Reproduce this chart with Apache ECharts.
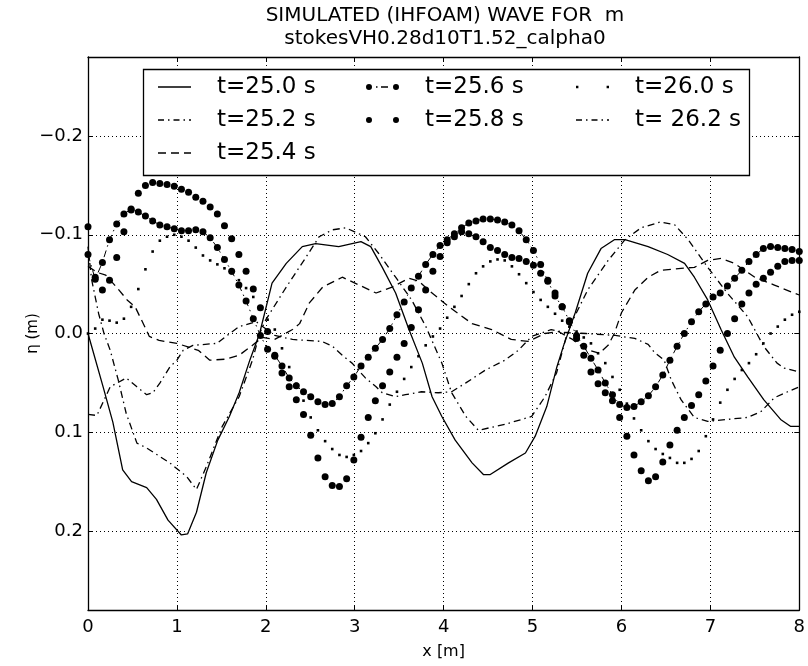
<!DOCTYPE html>
<html>
<head>
<meta charset="utf-8">
<script src="https://cdn.jsdelivr.net/npm/echarts@6/dist/echarts.min.js"></script>
<style>html,body{margin:0;padding:0;background:#fff;}#c{width:808px;height:666px;}</style>
</head>
<body>
<div id="c"></div>
<script>
// ---- data ----
const titleLines = ['SIMULATED (IHFOAM) WAVE FOR  m', 'stokesVH0.28d10T1.52_calpha0'];
const seriesNames = ['t=25.0 s', 't=25.2 s', 't=25.4 s', 't=25.6 s', 't=25.8 s', 't=26.0 s', 't= 26.2 s'];
const xTicks = [0, 1, 2, 3, 4, 5, 6, 7, 8];

// line-only curves: [x, eta] points
const t250 = [[0,0],[0.17,0.054],[0.28,0.09],[0.39,0.138],[0.49,0.150],[0.66,0.156],[0.77,0.168],[0.90,0.189],[1.05,0.204],[1.12,0.203],[1.22,0.181],[1.33,0.141],[1.46,0.108],[1.59,0.084],[1.70,0.06],[1.82,0.027],[1.93,0.0],[2.07,-0.051],[2.23,-0.071],[2.41,-0.088],[2.56,-0.091],[2.82,-0.088],[3.07,-0.093],[3.18,-0.088],[3.31,-0.067],[3.46,-0.041],[3.61,-0.004],[3.76,0.030],[3.87,0.064],[3.98,0.084],[4.13,0.108],[4.32,0.131],[4.45,0.143],[4.52,0.143],[4.73,0.131],[4.92,0.121],[5.03,0.104],[5.16,0.074],[5.27,0.035],[5.35,0.012],[5.48,-0.021],[5.62,-0.061],[5.77,-0.086],[5.92,-0.095],[6.04,-0.095],[6.30,-0.088],[6.52,-0.080],[6.71,-0.071],[6.82,-0.057],[6.97,-0.034],[7.12,-0.004],[7.27,0.024],[7.42,0.044],[7.60,0.067],[7.79,0.087],[7.90,0.094],[8.0,0.094]];
const t252 = [[0,-0.088],[0.04,-0.055],[0.12,-0.02],[0.18,0.0],[0.25,0.017],[0.34,0.047],[0.43,0.081],[0.55,0.111],[0.66,0.116],[0.92,0.131],[1.11,0.145],[1.22,0.158],[1.33,0.135],[1.51,0.094],[1.70,0.064],[1.85,0.027],[1.93,0.0],[2.0,-0.014],[2.23,-0.047],[2.45,-0.077],[2.6,-0.098],[2.75,-0.105],[2.90,-0.107],[3.12,-0.098],[3.27,-0.081],[3.46,-0.057],[3.64,-0.034],[3.80,-0.007],[3.98,0.030],[4.09,0.06],[4.25,0.084],[4.39,0.098],[4.69,0.092],[4.99,0.084],[5.14,0.064],[5.27,0.040],[5.40,-0.004],[5.62,-0.044],[5.85,-0.074],[6.04,-0.095],[6.22,-0.107],[6.44,-0.113],[6.6,-0.110],[6.75,-0.095],[6.97,-0.067],[7.19,-0.041],[7.42,-0.017],[7.60,0.013],[7.75,0.030],[7.83,0.035],[8.0,0.039]];
const t254 = [[0,-0.068],[0.1,-0.062],[0.2,-0.059],[0.33,-0.046],[0.44,-0.034],[0.53,-0.027],[0.6,-0.014],[0.69,0.003],[0.8,0.007],[1.0,0.010],[1.24,0.017],[1.37,0.027],[1.55,0.026],[1.70,0.022],[1.85,0.012],[1.96,0.004],[2.1,0.006],[2.3,-0.004],[2.38,-0.010],[2.49,-0.031],[2.64,-0.047],[2.86,-0.057],[3.05,-0.049],[3.24,-0.041],[3.42,-0.047],[3.61,-0.056],[3.72,-0.053],[3.83,-0.044],[4.06,-0.027],[4.32,-0.010],[4.54,-0.004],[4.76,0.006],[4.95,0.008],[5.14,0.0],[5.29,-0.002],[5.45,0.006],[5.6,0.016],[5.75,0.02],[5.85,0.012],[5.92,0.0],[6.0,-0.021],[6.15,-0.044],[6.30,-0.057],[6.44,-0.064],[6.67,-0.066],[6.82,-0.067],[6.97,-0.074],[7.12,-0.076],[7.27,-0.071],[7.5,-0.057],[7.72,-0.049],[7.94,-0.041],[8.0,-0.039]];
const t262 = [[0,0.082],[0.1,0.083],[0.25,0.054],[0.43,0.045],[0.55,0.054],[0.66,0.062],[0.73,0.06],[0.81,0.05],[0.92,0.034],[1.0,0.027],[1.07,0.017],[1.18,0.012],[1.45,0.01],[1.55,0.003],[1.7,-0.007],[1.89,-0.012],[2.1,0.002],[2.3,0.006],[2.45,0.007],[2.63,0.008],[2.75,0.013],[2.86,0.022],[2.97,0.03],[3.12,0.045],[3.24,0.054],[3.31,0.06],[3.46,0.064],[3.57,0.062],[3.75,0.059],[3.94,0.06],[4.09,0.059],[4.25,0.05],[4.47,0.037],[4.69,0.027],[4.84,0.017],[4.99,0.003],[5.21,-0.004],[5.36,-0.001],[5.6,0.0],[5.93,0.002],[6.15,0.005],[6.30,0.011],[6.37,0.019],[6.48,0.027],[6.56,0.047],[6.67,0.067],[6.82,0.085],[6.97,0.089],[7.19,0.087],[7.42,0.085],[7.57,0.079],[7.72,0.065],[7.87,0.059],[8.0,0.054]];

// marker curves: sampled on the 100-point mesh
const xMesh = [0,0.081,0.162,0.242,0.323,0.404,0.485,0.566,0.646,0.727,0.808,0.889,0.970,1.051,1.131,1.212,1.293,1.374,1.455,1.535,1.616,1.697,1.778,1.859,1.939,2.020,2.101,2.182,2.263,2.343,2.424,2.505,2.586,2.667,2.747,2.828,2.909,2.990,3.071,3.152,3.232,3.313,3.394,3.475,3.556,3.636,3.717,3.798,3.879,3.960,4.040,4.121,4.202,4.283,4.364,4.444,4.525,4.606,4.687,4.768,4.848,4.929,5.010,5.091,5.172,5.253,5.333,5.414,5.495,5.576,5.657,5.737,5.818,5.899,5.980,6.061,6.141,6.222,6.303,6.384,6.465,6.545,6.626,6.707,6.788,6.869,6.949,7.030,7.111,7.192,7.273,7.354,7.434,7.515,7.596,7.677,7.758,7.838,7.919,8.000];
const t256 = [-0.080,-0.055,-0.072,-0.095,-0.111,-0.121,-0.126,-0.123,-0.119,-0.114,-0.110,-0.108,-0.106,-0.104,-0.104,-0.105,-0.103,-0.097,-0.087,-0.075,-0.063,-0.049,-0.033,-0.015,0.002,0.016,0.022,0.033,0.045,0.053,0.059,0.064,0.069,0.072,0.071,0.064,0.053,0.044,0.033,0.024,0.015,0.006,-0.005,-0.019,-0.032,-0.046,-0.058,-0.070,-0.080,-0.089,-0.095,-0.101,-0.107,-0.112,-0.114,-0.116,-0.116,-0.115,-0.113,-0.110,-0.104,-0.095,-0.084,-0.070,-0.053,-0.038,-0.027,-0.013,0.002,0.013,0.025,0.037,0.050,0.062,0.072,0.075,0.074,0.069,0.063,0.054,0.042,0.027,0.013,0.000,-0.012,-0.022,-0.030,-0.037,-0.041,-0.048,-0.056,-0.064,-0.073,-0.080,-0.086,-0.088,-0.087,-0.086,-0.085,-0.083];
const t258 = [-0.108,-0.057,-0.044,-0.054,-0.077,-0.103,-0.125,-0.142,-0.150,-0.153,-0.152,-0.151,-0.149,-0.146,-0.143,-0.138,-0.134,-0.128,-0.121,-0.109,-0.096,-0.080,-0.063,-0.045,-0.026,-0.002,0.023,0.040,0.054,0.067,0.082,0.103,0.126,0.145,0.154,0.155,0.147,0.128,0.105,0.085,0.068,0.053,0.039,0.024,0.010,-0.006,-0.024,-0.044,-0.063,-0.078,-0.092,-0.098,-0.103,-0.101,-0.098,-0.093,-0.087,-0.084,-0.080,-0.077,-0.076,-0.073,-0.069,-0.061,-0.054,-0.041,-0.027,-0.012,0.005,0.022,0.039,0.051,0.060,0.068,0.085,0.104,0.123,0.139,0.149,0.145,0.130,0.113,0.098,0.085,0.073,0.062,0.048,0.033,0.017,0.000,-0.015,-0.030,-0.041,-0.050,-0.056,-0.062,-0.068,-0.073,-0.074,-0.074];
const t260 = [0.000,-0.005,-0.014,-0.013,-0.011,-0.015,-0.027,-0.045,-0.065,-0.083,-0.094,-0.098,-0.100,-0.098,-0.094,-0.087,-0.079,-0.074,-0.070,-0.066,-0.061,-0.054,-0.046,-0.037,-0.027,-0.014,-0.004,0.015,0.034,0.051,0.068,0.085,0.098,0.109,0.117,0.123,0.125,0.123,0.119,0.111,0.101,0.087,0.072,0.059,0.046,0.034,0.023,0.012,0.003,-0.005,-0.016,-0.027,-0.038,-0.050,-0.061,-0.068,-0.073,-0.075,-0.074,-0.068,-0.060,-0.051,-0.042,-0.034,-0.027,-0.020,-0.013,-0.007,-0.002,0.004,0.010,0.020,0.030,0.044,0.057,0.071,0.086,0.098,0.109,0.117,0.122,0.126,0.131,0.131,0.127,0.119,0.104,0.087,0.070,0.057,0.046,0.037,0.030,0.021,0.010,0.000,-0.007,-0.014,-0.019,-0.022];

// ---- chart ----
const FONT = 'DejaVu Sans';
const K = '#000';
const pair = vals => xMesh.map((x, i) => [x, vals[i]]);
const DASHDOT = [7, 4, 1.5, 4];
const DASHED = [8, 5];

// legend icons (33 px wide samples)
const ICON = {
  solid: 'path://M0,0h33v1.3h-33z',
  dashdot: 'path://M0,0h6v1.3h-6z M10,0h1.5v1.3h-1.5z M15.5,0h6v1.3h-6z M25.5,0h1.5v1.3h-1.5z M31,0h2v1.3h-2z',
  dashed: 'path://M0,0h8v1.3h-8z M13,0h8v1.3h-8z M26,0h7v1.3h-7z',
  dotdash: 'path://M0,3a3,3 0 1,0 6,0a3,3 0 1,0 -6,0z M10,2.35h1.5v1.3h-1.5z M15,2.35h7v1.3h-7z M27,3a3,3 0 1,0 6,0a3,3 0 1,0 -6,0z',
  dots: 'path://M0,3a3,3 0 1,0 6,0a3,3 0 1,0 -6,0z M27,3a3,3 0 1,0 6,0a3,3 0 1,0 -6,0z',
  small: 'path://M0,0h2.4v2.4h-2.4z M30.6,0h2.4v2.4h-2.4z'
};
function legendCol(left, items) {
  return {
    left: left, top: 75, orient: 'vertical', padding: 0, itemGap: 9,
    itemWidth: 33, itemHeight: 14, symbolKeepAspect: true, z: 10,
    selectedMode: false,
    textStyle: { fontFamily: FONT, fontSize: 23, color: K, lineHeight: 24, padding: [0, 0, 0, 21] },
    itemStyle: { color: K, borderWidth: 0 },
    data: items.map(it => ({ name: it[0], icon: it[1], itemStyle: { color: K } }))
  };
}

const lineSeries = (name, data, dash) => ({
  name, type: 'line', data, symbol: 'none', smooth: false, animation: false,
  lineStyle: { color: K, width: 1.3, type: dash }, itemStyle: { color: K }, z: 2
});

const yFmt = v => {
  if (Math.abs(v) < 1e-9) return '0.0';
  const s = v.toFixed(1);
  return s.replace('-', '\u2212');
};

const axisCommon = () => ({
  axisLine: { show: true, onZero: false, lineStyle: { color: K, width: 1.3 } },
  axisTick: { show: true, inside: true, length: 5, lineStyle: { color: K, width: 1 } }
});

const option = {
  animation: false,
  backgroundColor: '#fff',
  title: {
    text: titleLines.join('\n'), left: 445, top: 4, padding: 0, textAlign: 'center',
    textStyle: { fontFamily: FONT, fontSize: 20, fontWeight: 'normal', color: K, lineHeight: 23 }
  },
  grid: { left: 88, right: 6, top: 57, bottom: 56, containLabel: false },
  xAxis: [
    Object.assign({
      type: 'value', min: 0, max: 8, interval: 1, position: 'bottom',
      name: 'x [m]', nameLocation: 'middle', nameGap: 34, nameMoveOverlap: false,
      nameTextStyle: { fontFamily: FONT, fontSize: 16, color: K },
      axisLabel: { fontFamily: FONT, fontSize: 18, color: K, margin: 8,
        formatter: v => (xTicks.indexOf(v) >= 0 ? String(v) : '') },
      splitLine: { show: true, lineStyle: { color: K, width: 1, type: [1, 3] } }
    }, axisCommon()),
    Object.assign({
      type: 'value', min: 0, max: 8, interval: 1, position: 'top',
      axisLabel: { show: false }, splitLine: { show: false }
    }, axisCommon())
  ],
  yAxis: [
    Object.assign({
      type: 'value', min: -0.28, max: 0.28, splitNumber: 5, inverse: true, position: 'left',
      name: '\u03b7 (m)', nameLocation: 'middle', nameGap: 47, nameRotate: 90, nameMoveOverlap: false,
      nameTextStyle: { fontFamily: FONT, fontSize: 15, color: K },
      axisLabel: { fontFamily: FONT, fontSize: 18, color: K, margin: 5, formatter: yFmt,
        showMinLabel: false, showMaxLabel: false },
      splitLine: { show: true, lineStyle: { color: K, width: 1, type: [1, 3] } }
    }, axisCommon()),
    Object.assign({
      type: 'value', min: -0.28, max: 0.28, splitNumber: 5, inverse: true, position: 'right',
      axisLabel: { show: false }, splitLine: { show: false }
    }, axisCommon())
  ],
  legend: [
    legendCol(158, [[seriesNames[0], ICON.solid], [seriesNames[1], ICON.dashdot], [seriesNames[2], ICON.dashed]]),
    legendCol(366, [[seriesNames[3], ICON.dotdash], [seriesNames[4], ICON.dots]]),
    legendCol(576, [[seriesNames[5], ICON.small], [seriesNames[6], ICON.dashdot]])
  ],
  graphic: [{
    type: 'rect', z: 9, silent: true,
    shape: { x: 143.5, y: 69.5, width: 606, height: 106 },
    style: { fill: '#fff', stroke: K, lineWidth: 1.3 }
  }],
  series: [
    lineSeries(seriesNames[0], t250, 'solid'),
    lineSeries(seriesNames[1], t252, DASHDOT),
    lineSeries(seriesNames[2], t254, DASHED),
    {
      name: seriesNames[3], type: 'line', data: pair(t256), symbol: 'circle', symbolSize: 7,
      showAllSymbol: true, lineStyle: { color: K, width: 1, type: DASHDOT },
      itemStyle: { color: K, borderWidth: 0 }, z: 2
    },
    {
      name: seriesNames[4], type: 'line', data: pair(t258), symbol: 'circle', symbolSize: 7,
      showAllSymbol: true, lineStyle: { width: 0, opacity: 0 },
      itemStyle: { color: K, borderWidth: 0 }, z: 2
    },
    {
      name: seriesNames[5], type: 'line', data: pair(t260), symbol: 'rect', symbolSize: 2.6,
      showAllSymbol: true, lineStyle: { width: 0, opacity: 0 },
      itemStyle: { color: K, borderWidth: 0 }, z: 2
    },
    lineSeries(seriesNames[6], t262, DASHDOT)
  ]
};

const chart = echarts.init(document.getElementById('c'), null, { renderer: 'canvas' });
chart.setOption(option);
</script>
</body>
</html>
